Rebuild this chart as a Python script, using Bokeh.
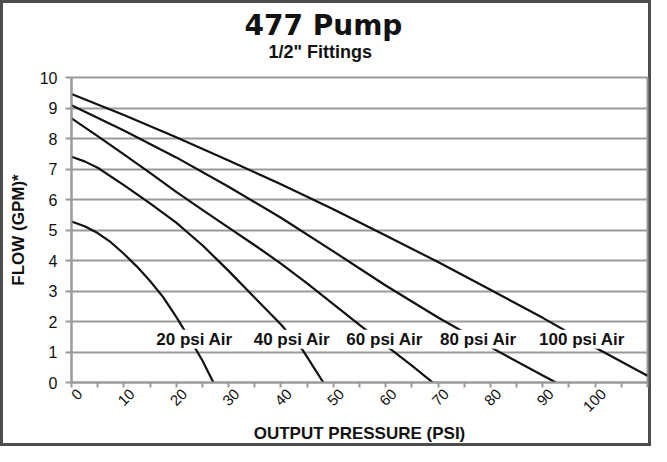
import math
from bokeh.plotting import figure
from bokeh.models import Range1d, FixedTicker, Title, LinearAxis
from bokeh.core.properties import value
from bokeh.embed import file_html
from bokeh.resources import INLINE

# ---------------- data ----------------
title_text = "477 Pump"
subtitle_text = '1/2" Fittings'
x_title = "OUTPUT PRESSURE (PSI)"
y_title = "FLOW (GPM)*"

x_tick_values = [0, 10, 20, 30, 40, 50, 60, 70, 80, 90, 100]
x_minor_values = [0, 5, 10, 15, 20, 25, 30, 35, 40, 45, 50, 55, 60, 65, 70, 75,
                  80, 85, 90, 95, 100, 105, 110]
y_tick_values = [0, 1, 2, 3, 4, 5, 6, 7, 8, 9, 10]

pressure_20 = [0, 2.5, 5, 7.5, 10, 12.5, 15, 17.5, 20, 22.5, 25, 27.1]
flow_20 = [5.28, 5.12, 4.9, 4.6, 4.22, 3.8, 3.33, 2.8, 2.15, 1.45, 0.72, 0]

pressure_40 = [0, 2.5, 5, 10, 15, 20, 25, 30, 35, 40, 44, 48.1]
flow_40 = [7.40, 7.25, 7.04, 6.47, 5.87, 5.24, 4.5, 3.66, 2.78, 1.9, 1.1, 0]

pressure_60 = [0, 5, 10, 15, 20, 25, 30, 35, 40, 45, 50, 55, 60, 65, 69]
flow_60 = [8.66, 8.08, 7.48, 6.87, 6.25, 5.66, 5.08, 4.5, 3.9, 3.25, 2.57, 1.89, 1.22, 0.55, 0]

pressure_80 = [0, 10, 20, 30, 40, 50, 60, 70, 80, 90, 92.5]
flow_80 = [9.09, 8.26, 7.38, 6.42, 5.40, 4.3, 3.18, 2.13, 1.16, 0.23, 0]

pressure_100 = [0, 10, 20, 30, 40, 50, 60, 70, 80, 90, 100, 110]
flow_100 = [9.46, 8.77, 8.04, 7.28, 6.5, 5.68, 4.82, 3.95, 3.04, 2.12, 1.15, 0.22]

series_names = ["20 psi Air", "40 psi Air", "60 psi Air", "80 psi Air", "100 psi Air"]
label_pressure = [23.5, 42.1, 59.8, 77.7, 97.5]
label_flow = [1.42, 1.42, 1.42, 1.42, 1.42]

# ---------------- figure ----------------
FONT = "Liberation Sans"
GRID = "#9a9a9a"
INK = "#111111"

p = figure(width=651, height=446, x_range=Range1d(0, 110), y_range=Range1d(0, 10),
           output_backend="svg", toolbar_location=None,
           min_border_left=71, min_border_right=4, min_border_top=0, min_border_bottom=64)
p.background_fill_color = "white"
p.border_fill_color = None
p.outline_line_color = GRID
p.outline_line_width = 2
p.styles = {"outline": "3px solid #4d4d4d", "outline-offset": "-3px"}

# label-only scale: same span as the data range, offset so that the rotated
# tick labels sit centred under their ticks as in the reference
p.extra_x_ranges = {"labels": Range1d(-1.6, 108.4)}

p.xgrid.visible = False
p.ygrid.ticker = FixedTicker(ticks=y_tick_values)
p.ygrid.grid_line_color = GRID
p.ygrid.grid_line_width = 2

# tick marks only (every 5 psi, no labels on this axis)
xa = p.xaxis[0]
xa.ticker = FixedTicker(ticks=[], minor_ticks=x_minor_values)
xa.axis_line_color = GRID
xa.axis_line_width = 2
xa.major_tick_line_color = GRID
xa.minor_tick_line_color = GRID
xa.major_tick_line_width = 2
xa.minor_tick_line_width = 2
xa.major_tick_in = 0
xa.major_tick_out = 5
xa.minor_tick_in = 0
xa.minor_tick_out = 5
xa.major_label_standoff = 0

# tick labels and axis title
xl = LinearAxis(x_range_name="labels",
                ticker=FixedTicker(ticks=x_tick_values))
xl.axis_line_color = None
xl.major_tick_line_color = None
xl.minor_tick_line_color = None
xl.major_tick_out = 0
xl.major_tick_in = 0
xl.minor_tick_out = 0
xl.minor_tick_in = 0
xl.major_label_orientation = math.pi / 4
xl.major_label_standoff = 4
xl.major_label_text_font = FONT
xl.major_label_text_font_size = "15px"
xl.major_label_text_color = INK
xl.axis_label = x_title
xl.axis_label_text_font = FONT
xl.axis_label_text_font_style = "bold"
xl.axis_label_text_font_size = "17px"
xl.axis_label_text_color = INK
xl.axis_label_standoff = 5
p.add_layout(xl, "below")

ya = p.yaxis[0]
ya.ticker = FixedTicker(ticks=y_tick_values)
ya.axis_line_color = GRID
ya.axis_line_width = 2
ya.major_tick_line_color = GRID
ya.major_tick_line_width = 2
ya.major_tick_in = 0
ya.major_tick_out = 6
ya.minor_tick_out = 0
ya.major_label_standoff = 8
ya.major_label_text_font = FONT
ya.major_label_text_font_size = "16px"
ya.major_label_text_color = INK
ya.axis_label = y_title
ya.axis_label_text_font = FONT
ya.axis_label_text_font_style = "bold"
ya.axis_label_text_font_size = "17px"
ya.axis_label_text_color = INK
ya.axis_label_standoff = 9

for xs, ys in [(pressure_20, flow_20), (pressure_40, flow_40), (pressure_60, flow_60),
               (pressure_80, flow_80), (pressure_100, flow_100)]:
    p.line(xs, ys, line_color=INK, line_width=2.2)

p.text(x=label_pressure, y=label_flow, text=series_names,
       text_font=value(FONT), text_font_style="bold", text_font_size="17px",
       text_color=INK, text_align="center", text_baseline="middle",
       text_line_height=1.0, background_fill_color="white")

# titles: a spacer next to the frame, then the subtitle, then the main title
p.add_layout(Title(text=" ", text_font_size="8px", standoff=12), "above")
p.add_layout(Title(text=subtitle_text, align="left", offset=197, vertical_align="top",
                   standoff=-19, text_font=FONT, text_font_style="bold",
                   text_font_size="18px", text_color=INK), "above")
p.add_layout(Title(text=title_text, align="left", offset=173, vertical_align="top",
                   standoff=16, text_font="DejaVu Sans", text_font_style="bold",
                   text_font_size="28px", text_color=INK), "above")

open("out.html", "w").write(file_html(p, INLINE))
